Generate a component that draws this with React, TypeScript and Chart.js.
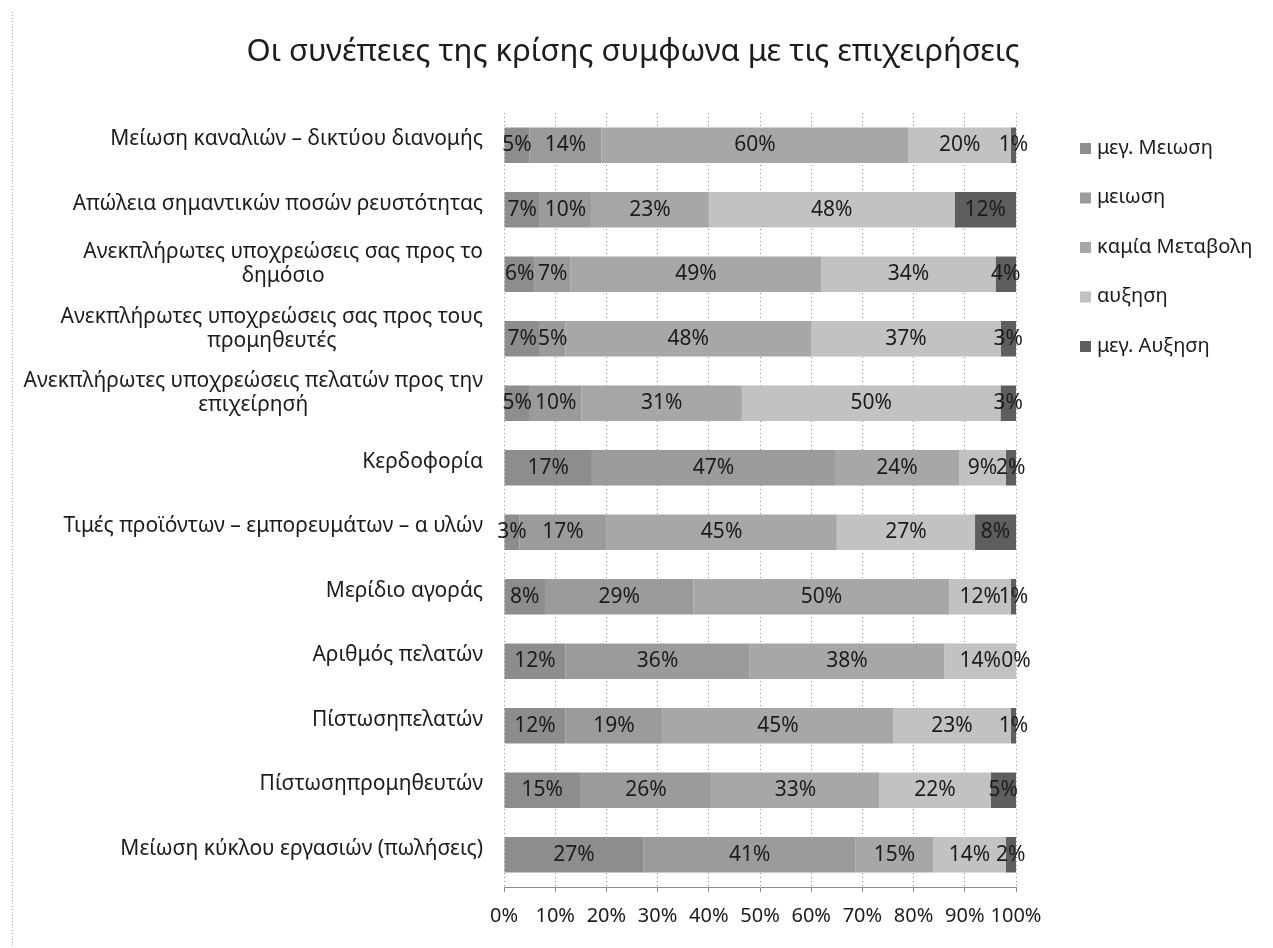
import React, { useEffect, useRef } from "react";
import { Chart, registerables } from "chart.js";

Chart.register(...registerables);

const TITLE = "Οι συνέπειες της κρίσης συμφωνα με τις επιχειρήσεις";

const categories: string[][] = [
  ["Μείωση καναλιών – δικτύου διανομής"],
  ["Απώλεια σημαντικών ποσών ρευστότητας"],
  ["Ανεκπλήρωτες υποχρεώσεις σας προς το", "δημόσιο"],
  ["Ανεκπλήρωτες υποχρεώσεις σας προς τους", "προμηθευτές"],
  ["Ανεκπλήρωτες υποχρεώσεις πελατών προς την", "επιχείρησή"],
  ["Κερδοφορία"],
  ["Τιμές προϊόντων – εμπορευμάτων – α υλών"],
  ["Μερίδιο αγοράς"],
  ["Αριθμός πελατών"],
  ["Πίστωσηπελατών"],
  ["Πίστωσηπρομηθευτών"],
  ["Μείωση κύκλου εργασιών (πωλήσεις)"],
];

const seriesNames = ["μεγ. Μειωση", "μειωση", "καμία Μεταβολη", "αυξηση", "μεγ. Αυξηση"];

const megMeiosi = [5, 7, 6, 7, 5, 17, 3, 8, 12, 12, 15, 27];
const meiosi = [14, 10, 7, 5, 10, 47, 17, 29, 36, 19, 26, 41];
const kamiaMetavoli = [60, 23, 49, 48, 31, 24, 45, 50, 38, 45, 33, 15];
const afxisi = [20, 48, 34, 37, 50, 9, 27, 12, 14, 23, 22, 14];
const megAfxisi = [1, 12, 4, 3, 3, 2, 8, 1, 0, 1, 5, 2];

const xTickValues = [0, 10, 20, 30, 40, 50, 60, 70, 80, 90, 100];

const seriesColors = ["#8d8d8d", "#9b9b9b", "#a7a7a7", "#c2c2c2", "#5e5e5e"];

const FONT = '"Noto Sans", sans-serif';
const LABEL_SIZE = 21;

export default function App() {
  const ref = useRef<HTMLCanvasElement | null>(null);

  useEffect(() => {
    if (!ref.current) return;
    const raw = [megMeiosi, meiosi, kamiaMetavoli, afxisi, megAfxisi];
    const totals = categories.map((_, i) => raw.reduce((s, arr) => s + arr[i], 0));

    const overlay = {
      id: "overlay",
      afterDatasetsDraw(chart: any) {
        const ctx = chart.ctx as CanvasRenderingContext2D;
        ctx.save();
        ctx.font = `${LABEL_SIZE}px ${FONT}`;
        ctx.fillStyle = "#1c1c1c";
        ctx.textAlign = "center";
        ctx.textBaseline = "middle";
        chart.data.datasets.forEach((_: any, di: number) => {
          const meta = chart.getDatasetMeta(di);
          meta.data.forEach((el: any, i: number) => {
            const p = el.getProps(["x", "y", "base"], true);
            ctx.fillText(raw[di][i] + "%", (p.x + p.base) / 2, p.y);
          });
        });
        ctx.restore();
      },
      afterDraw(chart: any) {
        const ctx = chart.ctx as CanvasRenderingContext2D;
        const yScale = chart.scales.y;
        ctx.save();
        // title
        ctx.fillStyle = "#1c1c1c";
        ctx.font = `31px ${FONT}`;
        ctx.textAlign = "center";
        ctx.textBaseline = "middle";
        ctx.fillText(TITLE, 633, 52);

        // category labels
        ctx.font = `${LABEL_SIZE}px ${FONT}`;
        const right = 483;
        const lh = 24;
        categories.forEach((lines, i) => {
          const cy = yScale.getPixelForValue(i) - (lines.length > 1 ? 10 : 6);
          const maxW = Math.max(...lines.map((l) => ctx.measureText(l).width));
          const cx = right - maxW / 2;
          const y0 = cy - ((lines.length - 1) * lh) / 2;
          lines.forEach((l, k) => ctx.fillText(l, cx, y0 + k * lh));
        });

        // legend
        ctx.font = `20px ${FONT}`;
        ctx.textAlign = "left";
        seriesNames.forEach((name, i) => {
          const y = 148 + i * 49.5;
          ctx.fillStyle = seriesColors[i];
          ctx.fillRect(1080, y - 5, 11, 11);
          ctx.fillStyle = "#1c1c1c";
          ctx.fillText(name, 1097, y);
        });

        // chart area dotted border (left)
        ctx.strokeStyle = "#b0b0b0";
        ctx.lineWidth = 1;
        ctx.setLineDash([1, 2]);
        ctx.beginPath();
        ctx.moveTo(12.5, 12);
        ctx.lineTo(12.5, 948);
        ctx.stroke();
        ctx.restore();
      },
    };

    const chart = new Chart(ref.current, {
      type: "bar",
      data: {
        labels: categories.map((c) => c.join(" ")),
        datasets: seriesNames.map((name, di) => ({
          label: name,
          data: raw[di].map((v, i) => (v / totals[i]) * 100),
          backgroundColor: seriesColors[di],
          borderWidth: 0,
          categoryPercentage: 1,
          barPercentage: 0.55,
        })),
      },
      options: {
        indexAxis: "y",
        responsive: false,
        animation: false,
        devicePixelRatio: 1,
        layout: { padding: { left: 504, right: 257, top: 113, bottom: 21 } },
        plugins: {
          legend: { display: false },
          title: { display: false },
          tooltip: { enabled: false },
        },
        scales: {
          y: {
            type: "category",
            display: false,
            stacked: true,
          },
          x: {
            type: "linear",
            stacked: true,
            min: 0,
            max: 100,
            afterFit: (s: any) => {
              s.height = 40;
            },
            afterBuildTicks: (s: any) => {
              s.ticks = xTickValues.map((v) => ({ value: v }));
            },
            grid: {
              color: "#8a8a8a",
              lineWidth: 1,
              drawTicks: true,
              tickLength: 5,
              tickColor: "#8a8a8a",
            },
            border: { display: true, color: "#8a8a8a", width: 1, dash: [1, 3] },
            ticks: {
              padding: 12,
              color: "#1c1c1c",
              autoSkip: false,
              maxRotation: 0,
              minRotation: 0,
              font: { family: "Noto Sans", size: 20 },
              callback: (v: any) => v + "%",
            },
          },
        },
      },
      plugins: [overlay],
    } as any);

    return () => chart.destroy();
  }, []);

  return (
    <canvas
      ref={ref}
      width={1273}
      height={948}
      style={{ position: "absolute", left: 0, top: 0, width: 1273, height: 948 }}
    />
  );
}
